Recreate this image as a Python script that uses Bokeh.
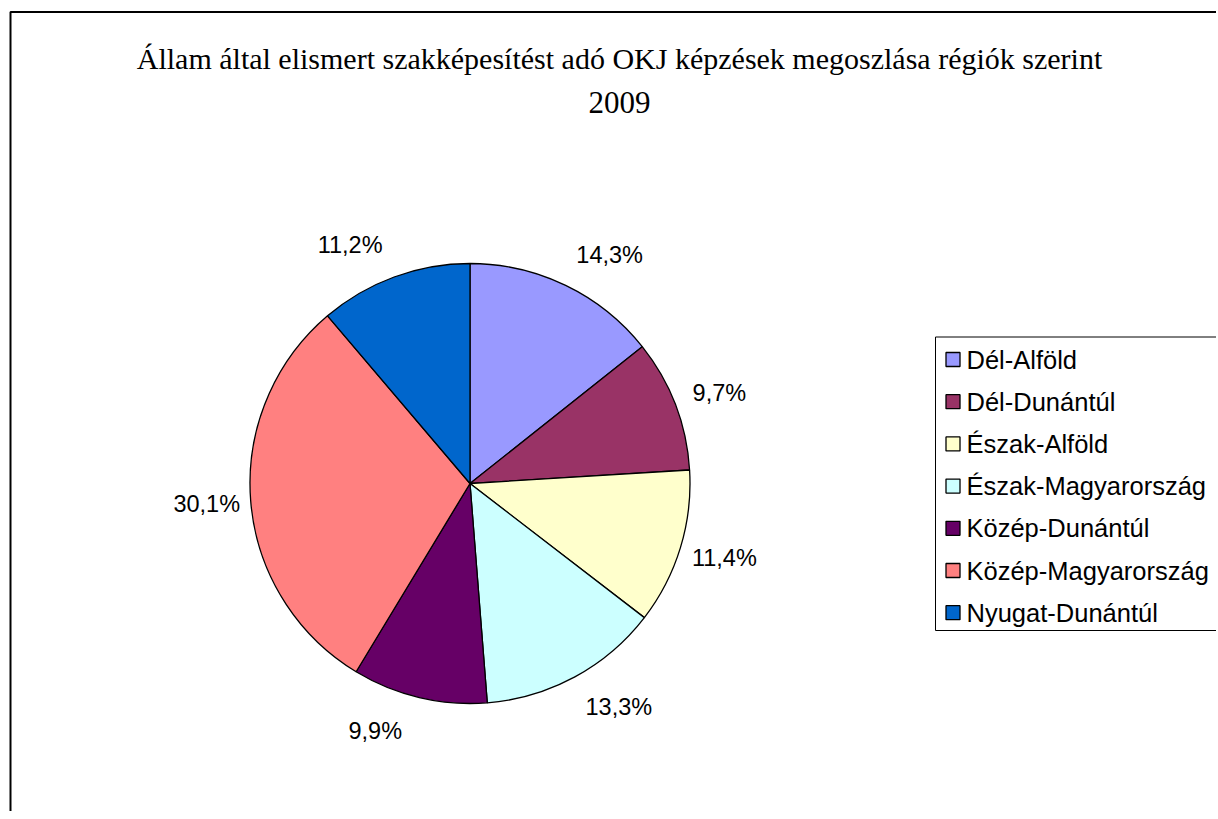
import math
from bokeh.plotting import figure
from bokeh.models import Range1d
from bokeh.core.properties import value
from bokeh.embed import file_html
from bokeh.resources import INLINE

title_line1 = "Állam által elismert szakképesítést adó OKJ képzések megoszlása régiók szerint"
title_line2 = "2009"
regions = ["Dél-Alföld", "Dél-Dunántúl", "Észak-Alföld", "Észak-Magyarország",
           "Közép-Dunántúl", "Közép-Magyarország", "Nyugat-Dunántúl"]
shares = [14.3, 9.7, 11.4, 13.3, 9.9, 30.1, 11.2]
labels = ["14,3%", "9,7%", "11,4%", "13,3%", "9,9%", "30,1%", "11,2%"]
colors = ["#9999FF", "#993366", "#FFFFCC", "#CCFFFF", "#660066", "#FF8080", "#0066CC"]

W, H = 1216, 811

def px(xp):
    return xp

def py(yp):
    return H - yp

p = figure(width=W, height=H, output_backend="svg", toolbar_location=None,
           x_range=Range1d(0, W), y_range=Range1d(0, H), min_border=0,
           tools="")
p.axis.visible = False
p.grid.visible = False
p.outline_line_color = None
p.background_fill_color = "white"
p.border_fill_color = "white"

# chart border (right/bottom run past the page edge)
p.quad(left=[px(10)], right=[px(1400)], top=[py(11.5)], bottom=[py(1000)],
       fill_color=None, line_color="black", line_width=2)

# title
p.text(x=[px(619)], y=[py(58)], text=[title_line1], text_align="center",
       text_baseline="alphabetic", text_font=value("Liberation Serif"),
       text_font_size="30px", text_color="black")
p.text(x=[px(619)], y=[py(102)], text=[title_line2], text_align="center",
       text_baseline="alphabetic", text_font=value("Liberation Serif"),
       text_font_size="31px", text_color="black")

# pie
cx, cy, r = px(469.5), py(483), 220.0
total = sum(shares)
starts, ends, mids = [], [], []
acc = 0.0
for s in shares:
    a0 = acc / total * 2 * math.pi
    acc += s
    a1 = acc / total * 2 * math.pi
    # clockwise from 12 o'clock -> bokeh counterclockwise from 3 o'clock
    starts.append(math.pi / 2 - a1)
    ends.append(math.pi / 2 - a0)
    mids.append((a0 + a1) / 2)

p.wedge(x=cx, y=cy, radius=r, start_angle=starts, end_angle=ends,
        fill_color=colors, line_color="black", line_width=1.3)

lx, ly = [], []
for t in mids:
    s, c = math.sin(t), math.cos(t)
    sgn = 1 if s > 0 else -1
    lx.append(cx + r * s + 44 * sgn)
    ly.append(cy + (r + 34) * c)
p.text(x=lx, y=ly, text=labels, text_align="center", text_baseline="middle",
       text_font=value("Liberation Sans"), text_font_size="23.5px", text_color="black")

# legend
p.quad(left=[px(935)], right=[px(1400)], top=[py(336.5)], bottom=[py(630)],
       fill_color="white", line_color="black", line_width=1)
leg_y = [py(359 + 42.2 * i) for i in range(len(regions))]
p.rect(x=[px(952.5)] * len(regions), y=leg_y, width=14, height=14,
       fill_color=colors, line_color="black", line_width=1.3)
p.text(x=[px(966)] * len(regions), y=leg_y, text=regions, text_align="left",
       text_baseline="middle", text_font=value("Liberation Sans"),
       text_font_size="25.5px", text_color="black")

open("out.html", "w").write(file_html(p, INLINE))
